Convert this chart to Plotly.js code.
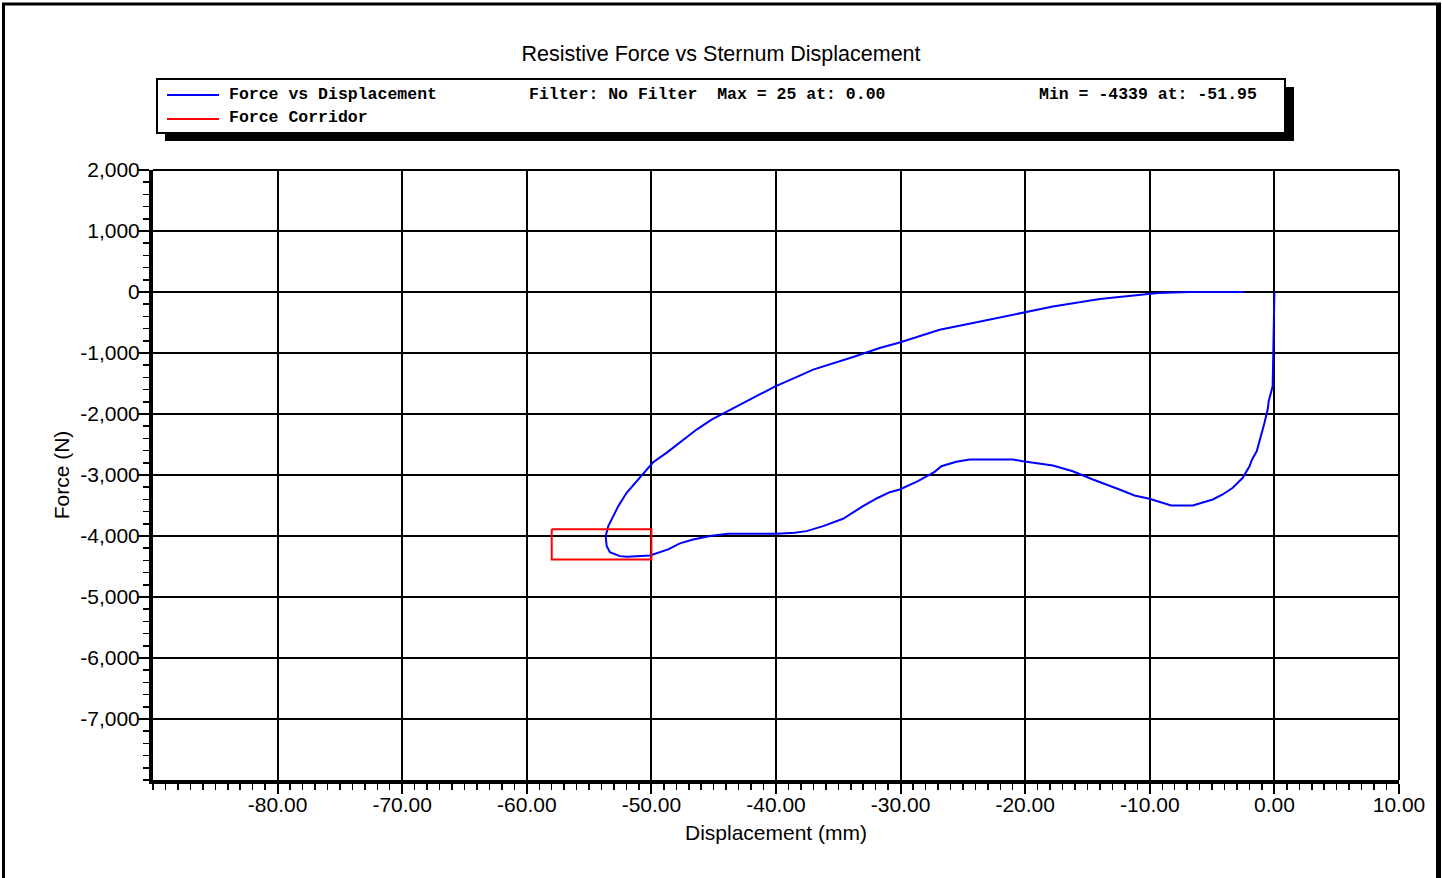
<!DOCTYPE html>
<html>
<head>
<meta charset="utf-8">
<script src="https://cdn.plot.ly/plotly-3.0.1.min.js"></script>
<style>
html,body{margin:0;padding:0;background:#fff;}
#chart{width:1442px;height:878px;}
</style>
</head>
<body>
<div id="chart"></div>
<script>
// Displacement (mm) and resistive force (N)
var displacement = [0, -0.04, -0.06, -0.14, -0.46, -0.54, -0.80, -1.07, -1.42, -1.79, -2.00, -2.54, -3.34, -4.15, -4.95, -6.55, -8.28,
  -10.03, -11.23, -12.43, -14.57, -16.18, -17.78, -20.18, -20.99, -24.46, -25.53, -26.73, -27.27, -28.61, -30.07, -30.87, -31.81,
  -33.02, -34.62, -36.22, -37.55, -38.49, -39.96, -43.84, -45.17, -46.65, -47.71, -48.65, -49.45, -50.12, -51.95, -52.53, -53.33,
  -53.59, -53.67, -53.46, -53.06, -52.66, -51.99, -51.19, -50.39, -49.86, -48.79, -47.71, -46.37, -45.17, -42.90, -40.10, -38.09,
  -37.02, -33.81, -31.68, -30.07, -26.87, -24.19, -20.45, -17.78, -14.01, -11.07, -9.34, -6.82, -2.41];
var force = [0, -780, -892, -1547, -1792, -1928, -2146, -2365, -2611, -2746, -2856, -3046, -3210, -3319, -3401, -3499, -3499,
  -3390, -3336, -3237, -3074, -2938, -2845, -2774, -2746, -2746, -2784, -2856, -2948, -3102, -3237, -3282, -3373,
  -3511, -3717, -3838, -3920, -3946, -3962, -3962, -3995, -4056, -4121, -4219, -4274, -4318, -4339, -4330, -4264,
  -4165, -4002, -3838, -3674, -3511, -3291, -3102, -2910, -2791, -2637, -2473, -2255, -2092, -1846, -1551, -1371,
  -1273, -1066, -918, -827, -619, -509, -357, -237, -116, -62, -18, 0, 0];
// Force corridor rectangle
var corridorX = [-58, -50, -50, -58, -58];
var corridorY = [-3890, -3890, -4385, -4385, -3890];
// Tick labels
var xTickVals = [-80, -70, -60, -50, -40, -30, -20, -10, 0, 10];
var xTickText = ['-80.00', '-70.00', '-60.00', '-50.00', '-40.00', '-30.00', '-20.00', '-10.00', '0.00', '10.00'];
var yTickVals = [2000, 1000, 0, -1000, -2000, -3000, -4000, -5000, -6000, -7000];
var yTickText = ['2,000', '1,000', '0', '-1,000', '-2,000', '-3,000', '-4,000', '-5,000', '-6,000', '-7,000'];
var seriesNames = ['Force vs Displacement', 'Force Corridor'];
var infoFilter = 'Filter: No Filter\u00a0\u00a0Max = 25 at: 0.00';
var infoMin = 'Min = -4339 at: -51.95';

// pixel -> paper helpers (plot area 153..1399 x 170..780)
var L = 153, R = 1399, T = 170, B = 780;
function fx(px){ return (px - L) / (R - L); }
function fy(py){ return (B - py) / (B - T); }

var traces = [
  {x: displacement, y: force, type: 'scatter', mode: 'lines', name: seriesNames[0],
   line: {color: '#0000ff', width: 2}, showlegend: false, hoverinfo: 'x+y'},
  {x: corridorX, y: corridorY, type: 'scatter', mode: 'lines', name: seriesNames[1],
   line: {color: '#ff0000', width: 2}, showlegend: false, hoverinfo: 'x+y'}
];

var tickFont = {family: 'Liberation Sans, Arial, sans-serif', size: 21, color: '#000'};
var monoFont = {family: 'Liberation Mono, Courier New, monospace', size: 16.5, color: '#000', weight: 'bold'};

var layout = {
  width: 1442, height: 878,
  margin: {l: L, r: 1442 - R, t: T, b: 878 - B, pad: 0},
  paper_bgcolor: '#fff', plot_bgcolor: '#fff',
  showlegend: false,
  title: {text: 'Resistive Force vs Sternum Displacement', font: {family: 'Liberation Sans, Arial, sans-serif', size: 21.5, color: '#000'},
          xref: 'container', x: 0.5, xanchor: 'center', yref: 'container', y: 1 - 53/878, yanchor: 'middle'},
  xaxis: {
    range: [-90, 10], tickmode: 'array', tickvals: xTickVals, ticktext: xTickText,
    ticks: 'outside', ticklen: 10, tickwidth: 2, tickcolor: '#000',
    showline: true, linewidth: 4, linecolor: '#000',
    showgrid: true, gridcolor: '#000', gridwidth: 2, zeroline: false,
    tickfont: tickFont, ticklabelstandoff: -7,
    minor: {tickmode: 'linear', tick0: 0, dtick: 1, ticks: 'outside', ticklen: 6, tickwidth: 1.5, tickcolor: '#000', showgrid: false},
    title: {text: 'Displacement (mm)', font: tickFont, standoff: 11}
  },
  yaxis: {
    range: [-8000, 2000], tickmode: 'array', tickvals: yTickVals, ticktext: yTickText,
    ticks: 'outside', ticklen: 11, tickwidth: 2, tickcolor: '#000',
    showline: true, linewidth: 4, linecolor: '#000',
    showgrid: true, gridcolor: '#000', gridwidth: 2, zeroline: false,
    tickfont: tickFont, ticklabelstandoff: -6,
    minor: {tickmode: 'linear', tick0: 0, dtick: 200, ticks: 'outside', ticklen: 6, tickwidth: 1.5, tickcolor: '#000', showgrid: false},
    title: {text: 'Force (N)', font: tickFont, standoff: 6}
  },
  shapes: [
    // top and right plot borders (grid lines at range ends)
    {type: 'line', xref: 'paper', yref: 'paper', x0: 0, x1: 1, y0: 1, y1: 1, line: {color: '#000', width: 2}},
    {type: 'line', xref: 'paper', yref: 'paper', x0: 1, x1: 1, y0: 0, y1: 1, line: {color: '#000', width: 2}},
    // legend shadow
    {type: 'rect', xref: 'paper', yref: 'paper', x0: fx(165), x1: fx(1294), y0: fy(141), y1: fy(87),
     fillcolor: '#000', line: {width: 0}, layer: 'above'},
    // legend box
    {type: 'rect', xref: 'paper', yref: 'paper', x0: fx(157), x1: fx(1285), y0: fy(133), y1: fy(79),
     fillcolor: '#fff', line: {color: '#000', width: 2}, layer: 'above'},
    // legend sample lines
    {type: 'line', xref: 'paper', yref: 'paper', x0: fx(167), x1: fx(219), y0: fy(95), y1: fy(95),
     line: {color: '#0000ff', width: 2}, layer: 'above'},
    {type: 'line', xref: 'paper', yref: 'paper', x0: fx(167), x1: fx(219), y0: fy(119), y1: fy(119),
     line: {color: '#ff0000', width: 2}, layer: 'above'},
    // outer frame
    {type: 'line', xref: 'paper', yref: 'paper', x0: fx(2), x1: fx(1441), y0: fy(4), y1: fy(4), line: {color: '#000', width: 3}},
    {type: 'line', xref: 'paper', yref: 'paper', x0: fx(3.5), x1: fx(3.5), y0: fy(3), y1: fy(880), line: {color: '#000', width: 3}},
    {type: 'line', xref: 'paper', yref: 'paper', x0: fx(1438.5), x1: fx(1438.5), y0: fy(3), y1: fy(880), line: {color: '#000', width: 5}}
  ],
  annotations: [
    {text: seriesNames[0], xref: 'paper', yref: 'paper', x: fx(227), y: fy(94), xanchor: 'left', yanchor: 'middle', showarrow: false, font: monoFont},
    {text: seriesNames[1], xref: 'paper', yref: 'paper', x: fx(227), y: fy(118), xanchor: 'left', yanchor: 'middle', showarrow: false, font: monoFont},
    {text: infoFilter, xref: 'paper', yref: 'paper', x: fx(527), y: fy(94), xanchor: 'left', yanchor: 'middle', showarrow: false, font: monoFont},
    {text: infoMin, xref: 'paper', yref: 'paper', x: fx(1037), y: fy(94), xanchor: 'left', yanchor: 'middle', showarrow: false, font: monoFont}
  ]
};

Plotly.newPlot('chart', traces, layout, {displayModeBar: false, staticPlot: true});
</script>
</body>
</html>
